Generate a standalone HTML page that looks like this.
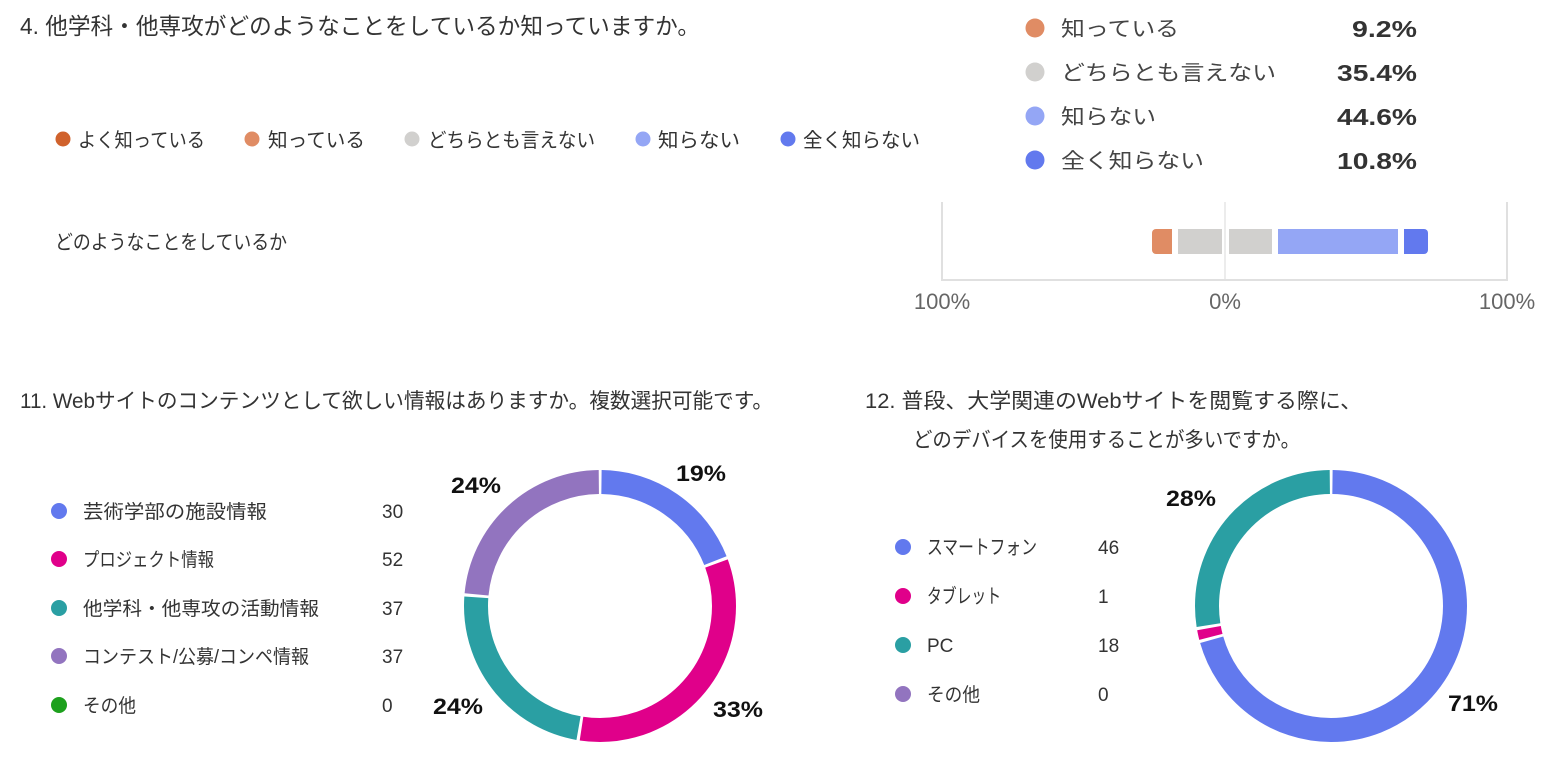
<!DOCTYPE html>
<html><head><meta charset="utf-8"><style>
html,body{margin:0;padding:0;background:#fff;}
svg{display:block;font-family:"Liberation Sans","Noto Sans CJK JP",sans-serif;}
</style></head><body>
<svg width="1564" height="763" viewBox="0 0 1564 763" xmlns="http://www.w3.org/2000/svg">
<rect width="1564" height="763" fill="#fff"/>
<g fill="#333" font-size="21">
<text x="20" y="34" textLength="680" lengthAdjust="spacingAndGlyphs" font-size="23">4. 他学科・他専攻がどのようなことをしているか知っていますか。</text>
</g>
<g font-size="20" fill="#333">
<circle cx="63" cy="139" r="7.5" fill="#d0622c"/><text x="78" y="147" textLength="127" lengthAdjust="spacingAndGlyphs">よく知っている</text>
<circle cx="252" cy="139" r="7.5" fill="#e08c64"/><text x="268" y="147" textLength="97" lengthAdjust="spacingAndGlyphs">知っている</text>
<circle cx="412" cy="139" r="7.5" fill="#d1d0ce"/><text x="428" y="147" textLength="167" lengthAdjust="spacingAndGlyphs">どちらとも言えない</text>
<circle cx="643" cy="139" r="7.5" fill="#94a6f5"/><text x="658" y="147" textLength="82" lengthAdjust="spacingAndGlyphs">知らない</text>
<circle cx="788" cy="139" r="7.5" fill="#6279ee"/><text x="803" y="147" textLength="117" lengthAdjust="spacingAndGlyphs">全く知らない</text>
<text x="55" y="249" textLength="232" lengthAdjust="spacingAndGlyphs">どのようなことをしているか</text>
</g>
<g font-size="21" fill="#444">
<circle cx="1035" cy="28" r="9.5" fill="#e08c64"/><text x="1061" y="36" textLength="118" lengthAdjust="spacingAndGlyphs">知っている</text>
<circle cx="1035" cy="72" r="9.5" fill="#d1d0ce"/><text x="1061" y="80" textLength="215" lengthAdjust="spacingAndGlyphs">どちらとも言えない</text>
<circle cx="1035" cy="116" r="9.5" fill="#94a6f5"/><text x="1061" y="124" textLength="95" lengthAdjust="spacingAndGlyphs">知らない</text>
<circle cx="1035" cy="160" r="9.5" fill="#6279ee"/><text x="1061" y="168" textLength="143" lengthAdjust="spacingAndGlyphs">全く知らない</text>
<g font-weight="bold" font-size="23" fill="#333">
<text x="1352" y="37" textLength="65" lengthAdjust="spacingAndGlyphs">9.2%</text>
<text x="1337" y="81" textLength="80" lengthAdjust="spacingAndGlyphs">35.4%</text>
<text x="1337" y="125" textLength="80" lengthAdjust="spacingAndGlyphs">44.6%</text>
<text x="1337" y="169" textLength="80" lengthAdjust="spacingAndGlyphs">10.8%</text>
</g>
</g>
<g stroke="#e0e0e0" stroke-width="2">
<line x1="942" y1="202" x2="942" y2="281"/><line x1="1507" y1="202" x2="1507" y2="281"/>
<line x1="1225" y1="202" x2="1225" y2="281" stroke="#ececec"/>
<line x1="941" y1="280" x2="1508" y2="280"/>
</g>
<rect x="1152" y="229" width="20" height="25" rx="4" fill="#e08c64"/>
<rect x="1165" y="229" width="7" height="25" fill="#e08c64"/>
<rect x="1178" y="229" width="44" height="25" fill="#d1d0ce"/>
<rect x="1229" y="229" width="43" height="25" fill="#d1d0ce"/>
<rect x="1278" y="229" width="120" height="25" fill="#94a6f5"/>
<rect x="1404" y="229" width="24" height="25" rx="4" fill="#6279ee"/>
<rect x="1404" y="229" width="8" height="25" fill="#6279ee"/>
<g font-size="22" fill="#666" text-anchor="middle">
<text x="942" y="309">100%</text><text x="1225" y="309">0%</text><text x="1507" y="309">100%</text>
</g>
<g fill="#333" font-size="21">
<text x="20" y="408" textLength="753" lengthAdjust="spacingAndGlyphs">11. Webサイトのコンテンツとして欲しい情報はありますか。複数選択可能です。</text>
<text x="865" y="408" textLength="497" lengthAdjust="spacingAndGlyphs">12. 普段、大学関連のWebサイトを閲覧する際に、</text>
<text x="913" y="447" textLength="387" lengthAdjust="spacingAndGlyphs">どのデバイスを使用することが多いですか。</text>
</g>
<g font-size="19" fill="#333">
<circle cx="59" cy="511" r="8" fill="#6279ee"/><text x="83" y="518" textLength="184" lengthAdjust="spacingAndGlyphs">芸術学部の施設情報</text><text x="382" y="518">30</text>
<circle cx="59" cy="559" r="8" fill="#e0008a"/><text x="83" y="566" textLength="131" lengthAdjust="spacingAndGlyphs">プロジェクト情報</text><text x="382" y="566">52</text>
<circle cx="59" cy="608" r="8" fill="#2a9fa3"/><text x="83" y="615" textLength="236" lengthAdjust="spacingAndGlyphs">他学科・他専攻の活動情報</text><text x="382" y="615">37</text>
<circle cx="59" cy="656" r="8" fill="#9274bf"/><text x="83" y="663" textLength="226" lengthAdjust="spacingAndGlyphs">コンテスト/公募/コンペ情報</text><text x="382" y="663">37</text>
<circle cx="59" cy="705" r="8" fill="#1da01d"/><text x="83" y="712" textLength="53" lengthAdjust="spacingAndGlyphs">その他</text><text x="382" y="712">0</text>
</g>
<g transform="rotate(-90 600 606)" fill="none" stroke-width="24">
<circle cx="600" cy="606" r="124" stroke="#6279ee" stroke-dasharray="146.8 1000" stroke-dashoffset="-1.5"/>
<circle cx="600" cy="606" r="124" stroke="#e0008a" stroke-dasharray="256.7 1000" stroke-dashoffset="-151.3"/>
<circle cx="600" cy="606" r="124" stroke="#2a9fa3" stroke-dasharray="181.8 1000" stroke-dashoffset="-411"/>
<circle cx="600" cy="606" r="124" stroke="#9274bf" stroke-dasharray="181.8 1000" stroke-dashoffset="-595.8"/>
</g>
<g font-size="22" font-weight="bold" fill="#111">
<text x="676" y="481" textLength="50" lengthAdjust="spacingAndGlyphs">19%</text>
<text x="713" y="717" textLength="50" lengthAdjust="spacingAndGlyphs">33%</text>
<text x="433" y="714" textLength="50" lengthAdjust="spacingAndGlyphs">24%</text>
<text x="451" y="493" textLength="50" lengthAdjust="spacingAndGlyphs">24%</text>
</g>
<g font-size="19" fill="#333">
<circle cx="903" cy="547" r="8" fill="#6279ee"/><text x="927" y="554" textLength="110" lengthAdjust="spacingAndGlyphs" font-size="20">スマートフォン</text><text x="1098" y="554">46</text>
<circle cx="903" cy="596" r="8" fill="#e0008a"/><text x="927" y="603" textLength="74" lengthAdjust="spacingAndGlyphs" font-size="20">タブレット</text><text x="1098" y="603">1</text>
<circle cx="903" cy="645" r="8" fill="#2a9fa3"/><text x="927" y="652">PC</text><text x="1098" y="652">18</text>
<circle cx="903" cy="694" r="8" fill="#9274bf"/><text x="927" y="701" textLength="53" lengthAdjust="spacingAndGlyphs">その他</text><text x="1098" y="701">0</text>
</g>
<g transform="rotate(-90 1331 606)" fill="none" stroke-width="24">
<circle cx="1331" cy="606" r="124" stroke="#6279ee" stroke-dasharray="548.4 1000" stroke-dashoffset="-1.5"/>
<circle cx="1331" cy="606" r="124" stroke="#e0008a" stroke-dasharray="9 1000" stroke-dashoffset="-552.9"/>
<circle cx="1331" cy="606" r="124" stroke="#2a9fa3" stroke-dasharray="212.7 1000" stroke-dashoffset="-564.9"/>
</g>
<g font-size="22" font-weight="bold" fill="#111">
<text x="1166" y="506" textLength="50" lengthAdjust="spacingAndGlyphs">28%</text>
<text x="1448" y="711" textLength="50" lengthAdjust="spacingAndGlyphs">71%</text>
</g>
</svg>
</body></html>
